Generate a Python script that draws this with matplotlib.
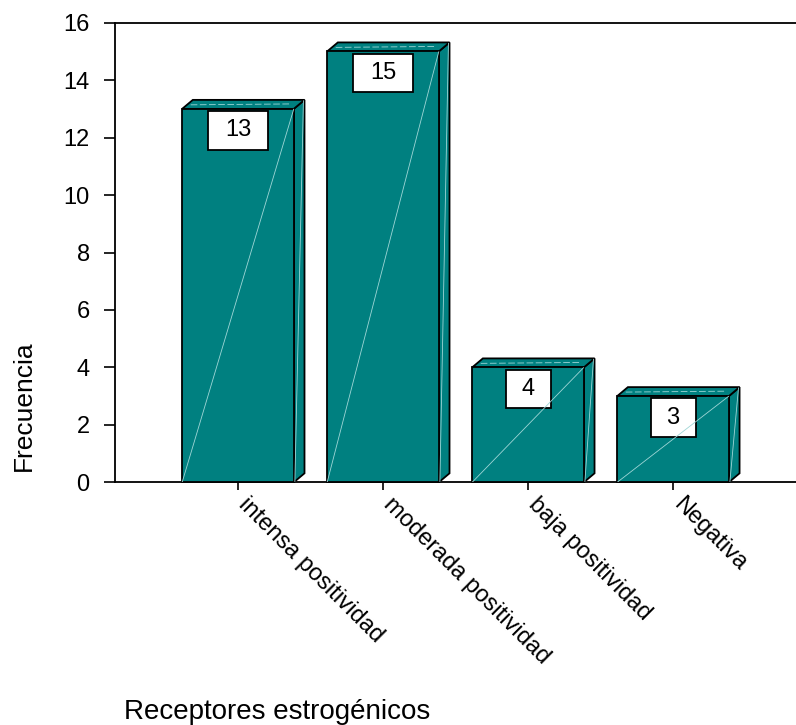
import matplotlib
matplotlib.use("Agg")
import matplotlib.pyplot as plt
from matplotlib.patches import Polygon, Rectangle

# Frequency of estrogen-receptor staining categories
categories = ["intensa positividad", "moderada positividad", "baja positividad", "Negativa"]
frecuencias = [13, 15, 4, 3]
y_ticks = [0, 2, 4, 6, 8, 10, 12, 14, 16]

plt.rcParams['font.family'] = ['Liberation Sans', 'DejaVu Sans']

W, H = 796, 725
fig = plt.figure(figsize=(W / 100, H / 100), dpi=100)
ax = fig.add_axes([114.7 / W, 1 - 482.3 / H, 1 - 114.7 / W, (482.3 - 22.7) / H])
ax.set_xlim(-0.850, 3.848)
ax.set_ylim(0, 16)

TEAL = '#008080'
SHINE = '#9fd6d6'
EDGE_LW = 1.3

# pixel scale of the data axes, used for the pseudo-3D depth and label boxes
px_x = (W - 114.7) / (3.848 + 0.850)
px_y = (482.3 - 22.7) / 16.0

bar_w = 0.77
dx = 10.7 / px_x
dy = 9.0 / px_y

for i, v in enumerate(frecuencias):
    x0, x1 = i - bar_w / 2, i + bar_w / 2
    # side face
    side = Polygon([(x1, 0), (x1 + dx, dy), (x1 + dx, v + dy), (x1, v)], closed=True,
                   fc=TEAL, ec='black', lw=EDGE_LW, zorder=3, joinstyle='miter', clip_on=False)
    ax.add_patch(side)
    # top face
    top = Polygon([(x0, v), (x0 + dx, v + dy), (x1 + dx, v + dy), (x1, v)], closed=True,
                  fc=TEAL, ec='black', lw=EDGE_LW, zorder=3, joinstyle='miter', clip_on=False)
    ax.add_patch(top)
    # front face
    front = Rectangle((x0, 0), bar_w, v, fc=TEAL, ec='black', lw=EDGE_LW, zorder=4,
                      joinstyle='miter', clip_on=False)
    ax.add_patch(front)

    # value label box
    label = str(v)
    bw = (30 + 15 * len(label)) / px_x
    bh = 38.5 / px_y
    btop = v - 2.2 / px_y
    box = Rectangle((i - bw / 2, btop - bh), bw, bh, fc='white', ec='black', lw=EDGE_LW, zorder=5)
    ax.add_patch(box)

    # faint shading highlights
    ax.plot([x0, x1], [0, v], color=SHINE, lw=0.6, zorder=6, solid_capstyle='butt')
    ax.plot([x1 + dx * 0.1, x1 + dx * 0.9], [dy * 0.1, v + dy * 0.9], color=SHINE, lw=0.6, zorder=4)
    ax.plot([x0 + dx * 0.8, x1 - 0.02], [v + dy * 0.45, v + dy * 0.55], color=SHINE, lw=0.6,
            ls=(0, (8, 3)), zorder=4)

    ax.text(i, btop - bh / 2, label, ha='center', va='center', fontsize=17, color='black', zorder=7)

# axes styling
for s in ['left', 'top', 'bottom']:
    ax.spines[s].set_linewidth(1.3)
    ax.spines[s].set_color('black')
ax.spines['right'].set_visible(False)

ax.set_yticks(y_ticks)
ax.set_yticklabels([str(t) for t in y_ticks], fontsize=17)
ax.tick_params(axis='y', direction='out', length=8, width=1.2, pad=10)

ax.set_xticks(range(len(categories)))
ax.set_xticklabels(categories, fontsize=17, rotation=-45, ha='left', va='baseline',
                   rotation_mode='anchor')
ax.tick_params(axis='x', direction='out', length=6, width=1.2, pad=11)

fig.text(24 / W, 1 - 406 / H, "Frecuencia", rotation=90, ha='center', va='center', fontsize=19)
fig.text(124 / W, 1 - 719 / H, "Receptores estrogénicos", ha='left', va='baseline', fontsize=20)

fig.savefig("out.png", dpi=100, facecolor='white')
